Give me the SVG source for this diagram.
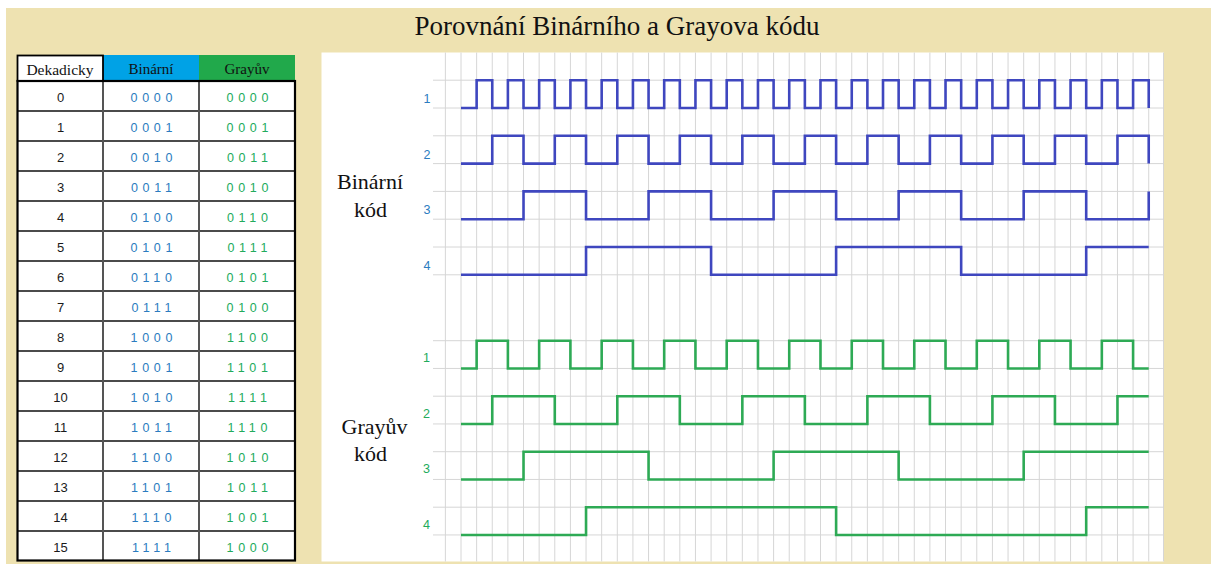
<svg xmlns="http://www.w3.org/2000/svg" width="1211" height="564" viewBox="0 0 1211 564">
<style>
.ser{font-family:"Liberation Serif","Times New Roman",serif;fill:#111}
.num{font-family:"Liberation Sans",Arial,sans-serif;font-size:12.5px;letter-spacing:4.7px;text-anchor:middle}
.dec{font-family:"Liberation Sans",Arial,sans-serif;font-size:13px;fill:#1a1a1a;text-anchor:middle}
.bin{fill:#2b7cc0}
.gry{fill:#22ab5c}
.lbl{font-family:"Liberation Sans",Arial,sans-serif;font-size:12.5px;text-anchor:middle}
.grid{stroke:#d6d6d6;stroke-width:1;fill:none}
.wb{stroke:#3f47bf;stroke-width:2.6;fill:none;stroke-linejoin:miter}
.wg{stroke:#2eaa55;stroke-width:2.6;fill:none;stroke-linejoin:miter}
</style>
<rect x="0" y="0" width="1211" height="564" fill="#ffffff"/>
<rect x="6" y="8" width="1205" height="556" fill="#eee2b1"/>
<text id="title" class="ser" x="617" y="35" font-size="27" text-anchor="middle">Porovnání Binárního a Grayova kódu</text>

<g id="table">
<rect x="103" y="55" width="96" height="26" fill="#00a2e6"/>
<rect x="199" y="55" width="96" height="26" fill="#21a94b"/>
<rect x="17.5" y="55.5" width="85.5" height="25.5" fill="#ffffff" stroke="#000" stroke-width="1.8"/>
<rect x="17.5" y="81" width="277.5" height="480" fill="#ffffff"/>
<g stroke="#111" stroke-width="1.5">
<path d="M17.5 111H295M17.5 141H295M17.5 171H295M17.5 201H295M17.5 231H295M17.5 261H295M17.5 291H295M17.5 321H295M17.5 351H295M17.5 381H295M17.5 411H295M17.5 441H295M17.5 471H295M17.5 501H295M17.5 531H295"/>
</g>
<path d="M103 81V561M199 81V561" stroke="#555" stroke-width="2"/>
<rect x="17.5" y="81" width="277.5" height="479.5" fill="none" stroke="#000" stroke-width="2.2"/>
<text class="ser" x="60" y="74.5" font-size="15.5" text-anchor="middle">Dekadicky</text>
<text class="ser" x="151" y="74" font-size="15" text-anchor="middle">Binární</text>
<text class="ser" x="247" y="74" font-size="15" text-anchor="middle">Grayův</text>
<g class="dec">
<text x="60.5" y="101.6">0</text><text x="60.5" y="131.6">1</text><text x="60.5" y="161.6">2</text><text x="60.5" y="191.6">3</text>
<text x="60.5" y="221.6">4</text><text x="60.5" y="251.6">5</text><text x="60.5" y="281.6">6</text><text x="60.5" y="311.6">7</text>
<text x="60.5" y="341.6">8</text><text x="60.5" y="371.6">9</text><text x="60.5" y="401.6">10</text><text x="60.5" y="431.6">11</text>
<text x="60.5" y="461.6">12</text><text x="60.5" y="491.6">13</text><text x="60.5" y="521.6">14</text><text x="60.5" y="551.6">15</text>
</g>
<g class="num bin">
<text x="153.8" y="101.6">0000</text><text x="153.8" y="131.6">0001</text><text x="153.8" y="161.6">0010</text><text x="153.8" y="191.6">0011</text>
<text x="153.8" y="221.6">0100</text><text x="153.8" y="251.6">0101</text><text x="153.8" y="281.6">0110</text><text x="153.8" y="311.6">0111</text>
<text x="153.8" y="341.6">1000</text><text x="153.8" y="371.6">1001</text><text x="153.8" y="401.6">1010</text><text x="153.8" y="431.6">1011</text>
<text x="153.8" y="461.6">1100</text><text x="153.8" y="491.6">1101</text><text x="153.8" y="521.6">1110</text><text x="153.8" y="551.6">1111</text>
</g>
<g class="num gry">
<text x="249.8" y="101.6">0000</text><text x="249.8" y="131.6">0001</text><text x="249.8" y="161.6">0011</text><text x="249.8" y="191.6">0010</text>
<text x="249.8" y="221.6">0110</text><text x="249.8" y="251.6">0111</text><text x="249.8" y="281.6">0101</text><text x="249.8" y="311.6">0100</text>
<text x="249.8" y="341.6">1100</text><text x="249.8" y="371.6">1101</text><text x="249.8" y="401.6">1111</text><text x="249.8" y="431.6">1110</text>
<text x="249.8" y="461.6">1010</text><text x="249.8" y="491.6">1011</text><text x="249.8" y="521.6">1001</text><text x="249.8" y="551.6">1000</text>
</g>
</g>

<g id="chart">
<rect x="321.5" y="52.5" width="842.5" height="509" fill="#ffffff"/>
<path class="grid" d="M445.37 52.5v509
m15.63 -509v509m15.63 -509v509m15.63 -509v509m15.63 -509v509m15.63 -509v509
m15.63 -509v509m15.63 -509v509m15.63 -509v509m15.63 -509v509m15.63 -509v509
m15.63 -509v509m15.63 -509v509m15.63 -509v509m15.63 -509v509m15.63 -509v509
m15.63 -509v509m15.63 -509v509m15.63 -509v509m15.63 -509v509m15.63 -509v509
m15.63 -509v509m15.63 -509v509m15.63 -509v509m15.63 -509v509m15.63 -509v509
m15.63 -509v509m15.63 -509v509m15.63 -509v509m15.63 -509v509m15.63 -509v509
m15.63 -509v509m15.63 -509v509m15.63 -509v509m15.63 -509v509m15.63 -509v509
m15.63 -509v509m15.63 -509v509m15.63 -509v509m15.63 -509v509m15.63 -509v509
m15.63 -509v509m15.63 -509v509m15.63 -509v509m15.63 -509v509m15.63 -509v509"/>
<path class="grid" d="M1163.5 52.5V561.5"/>
<path class="grid" d="M433 80.2H1164M433 108H1164M433 135.8H1164M433 163.6H1164M433 191.4H1164M433 219.2H1164M433 247H1164M433 274.8H1164M433 340.7H1164M433 368.45H1164M433 396.2H1164M433 423.95H1164M433 451.7H1164M433 479.45H1164M433 507.2H1164M433 534.95H1164"/>

<g id="labels-binary" class="lbl bin">
<text x="427" y="103">1</text><text x="427" y="158.6">2</text><text x="427" y="214.4">3</text><text x="427" y="270">4</text>
</g>
<g id="labels-gray" class="lbl gry">
<text x="426.5" y="362">1</text><text x="426.5" y="417.5">2</text><text x="426.5" y="473">3</text><text x="426.5" y="528.5">4</text>
</g>
<text class="ser" x="370" y="189.3" font-size="22" text-anchor="middle">Binární</text>
<text class="ser" x="370.5" y="216.7" font-size="22" text-anchor="middle">kód</text>
<text class="ser" x="374.5" y="434" font-size="22" text-anchor="middle">Grayův</text>
<text class="ser" x="370.5" y="460.7" font-size="22" text-anchor="middle">kód</text>

<g id="waves-binary">
<path class="wb" d="M461 108
h15.63v-27.8h15.63v27.8 h15.63v-27.8h15.63v27.8
h15.63v-27.8h15.63v27.8 h15.63v-27.8h15.63v27.8
h15.63v-27.8h15.63v27.8 h15.63v-27.8h15.63v27.8
h15.63v-27.8h15.63v27.8 h15.63v-27.8h15.63v27.8
h15.63v-27.8h15.63v27.8 h15.63v-27.8h15.63v27.8
h15.63v-27.8h15.63v27.8 h15.63v-27.8h15.63v27.8
h15.63v-27.8h15.63v27.8 h15.63v-27.8h15.63v27.8
h15.63v-27.8h15.63v27.8 h15.63v-27.8h15.63v27.8
h15.63v-27.8h15.63v27.8 h15.63v-27.8h15.63v27.8
h15.63v-27.8h15.63v27.8 h15.63v-27.8h15.63v27.8
h15.63v-27.8h15.63v27.8 h15.63v-27.8h15.63v27.8"/>
<path class="wb" d="M461 163.6h31.26v-27.8h31.26v27.8h31.26v-27.8h31.26v27.8h31.26v-27.8h31.26v27.8h31.26v-27.8h31.26v27.8h31.26v-27.8h31.26v27.8h31.26v-27.8h31.26v27.8h31.26v-27.8h31.26v27.8h31.26v-27.8h31.26v27.8h31.26v-27.8h31.26v27.8h31.26v-27.8h31.26v27.8h31.26v-27.8h31.26v27.8"/>
<path class="wb" d="M461 219.2H523.52V191.4H586.04V219.2H648.56V191.4H711.08V219.2H773.6V191.4H836.12V219.2H898.64V191.4H961.16V219.2H1023.68V191.4H1086.2V219.2H1148.72V191.4"/>
<path class="wb" d="M461 274.8H586.04V247H711.08V274.8H836.12V247H961.16V274.8H1086.2V247H1148.72"/>
</g>

<g id="waves-gray">
<path class="wg" d="M461 368.45h15.63v-27.75h31.26v27.75h31.26v-27.75h31.26v27.75h31.26v-27.75h31.26v27.75h31.26v-27.75h31.26v27.75h31.26v-27.75h31.26v27.75h31.26v-27.75h31.26v27.75h31.26v-27.75h31.26v27.75h31.26v-27.75h31.26v27.75h31.26v-27.75h31.26v27.75h31.26v-27.75h31.26v27.75h31.26v-27.75h31.26v27.75h15.63"/>
<path class="wg" d="M461 423.95H492.26V396.2H554.78V423.95H617.3V396.2H679.82V423.95H742.34V396.2H804.86V423.95H867.38V396.2H929.9V423.95H992.42V396.2H1054.94V423.95H1117.46V396.2H1148.72"/>
<path class="wg" d="M461 479.45H523.52V451.7H648.56V479.45H773.6V451.7H898.64V479.45H1023.68V451.7H1148.72"/>
<path class="wg" d="M461 534.95H586.04V507.2H836.12V534.95H1086.2V507.2H1148.72"/>
</g>
</g>
</svg>
